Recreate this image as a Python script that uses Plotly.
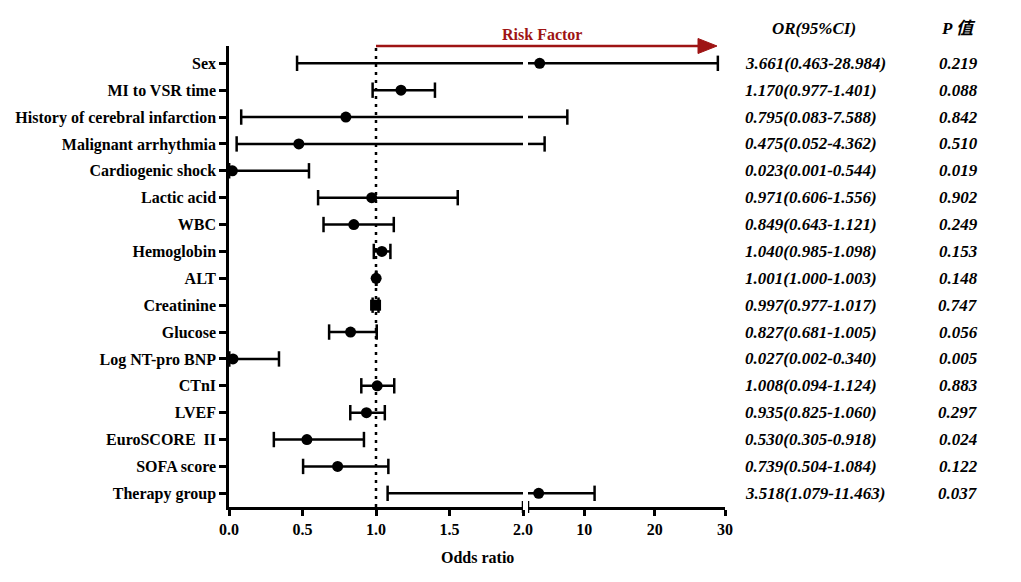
import plotly.graph_objects as go

# ---------------- data ----------------
variables = ["Sex", "MI to VSR time", "History of cerebral infarction", "Malignant arrhythmia",
             "Cardiogenic shock", "Lactic acid", "WBC", "Hemoglobin", "ALT", "Creatinine",
             "Glucose", "Log NT-pro BNP", "CTnI", "LVEF", "EuroSCORE  II", "SOFA score",
             "Therapy group"]
odds_ratio = [3.661, 1.170, 0.795, 0.475, 0.023, 0.971, 0.849, 1.040, 1.001, 0.997,
              0.827, 0.027, 1.008, 0.935, 0.530, 0.739, 3.518]
ci_lower = [0.463, 0.977, 0.083, 0.052, 0.001, 0.606, 0.643, 0.985, 1.000, 0.977,
            0.681, 0.002, 0.900, 0.825, 0.305, 0.504, 1.079]
ci_upper = [28.984, 1.401, 7.588, 4.362, 0.544, 1.556, 1.121, 1.098, 1.003, 1.017,
            1.005, 0.340, 1.124, 1.060, 0.918, 1.084, 11.463]
or_text = ["3.661(0.463-28.984)", "1.170(0.977-1.401)", "0.795(0.083-7.588)", "0.475(0.052-4.362)",
           "0.023(0.001-0.544)", "0.971(0.606-1.556)", "0.849(0.643-1.121)", "1.040(0.985-1.098)",
           "1.001(1.000-1.003)", "0.997(0.977-1.017)", "0.827(0.681-1.005)", "0.027(0.002-0.340)",
           "1.008(0.094-1.124)", "0.935(0.825-1.060)", "0.530(0.305-0.918)", "0.739(0.504-1.084)",
           "3.518(1.079-11.463)"]
p_text = ["0.219", "0.088", "0.842", "0.510", "0.019", "0.902", "0.249", "0.153", "0.148",
          "0.747", "0.056", "0.005", "0.883", "0.297", "0.024", "0.122", "0.037"]
marker_symbols = ["circle"] * 9 + ["square"] + ["circle"] * 7
left_ticks = [0, 0.5, 1.0, 1.5, 2.0]
left_ticktext = ["0.0", "0.5", "1.0", "1.5", "2.0"]
right_ticks = [10, 20, 30]
right_ticktext = ["10", "20", "30"]
BREAK = 2.0
X_MAX = 30

# ---------------- styling ----------------
SERIF = "Liberation Serif, Times New Roman, serif"
BLACK = "#000000"
RED = "#9E1414"
LW = 2.5

W, H = 1021, 582
L, R, T, B = 229, 296, 46, 75
plot_w = W - L - R
plot_h = H - T - B
left_dom = [0, (523 - L) / plot_w]
right_dom = [(528 - L) / plot_w, 1]

fig = go.Figure()

rows = list(range(len(variables)))

# build line segments for each axis part
lx, ly, rx, ry = [], [], [], []
lcapx, lcapy, rcapx, rcapy = [], [], [], []
lpx, lpy, lps, rpx, rpy, rps = [], [], [], [], [], []
for i in rows:
    lo, hi, o = ci_lower[i], ci_upper[i], odds_ratio[i]
    if lo < BREAK:
        lx += [lo, min(hi, BREAK), None]
        ly += [i, i, None]
        lcapx.append(lo); lcapy.append(i)
    if hi > BREAK:
        rx += [max(lo, BREAK), hi, None]
        ry += [i, i, None]
        rcapx.append(hi); rcapy.append(i)
    else:
        lcapx.append(hi); lcapy.append(i)
    if o <= BREAK:
        lpx.append(o); lpy.append(i); lps.append(marker_symbols[i])
    else:
        rpx.append(o); rpy.append(i); rps.append(marker_symbols[i])

line_style = dict(color=BLACK, width=LW)
cap_marker = dict(symbol="line-ns", size=11, line=dict(color=BLACK, width=LW))

fig.add_trace(go.Scatter(x=lx, y=ly, mode="lines", line=line_style, xaxis="x", yaxis="y",
                         showlegend=False, hoverinfo="skip"))
fig.add_trace(go.Scatter(x=rx, y=ry, mode="lines", line=line_style, xaxis="x2", yaxis="y",
                         showlegend=False, hoverinfo="skip"))
fig.add_trace(go.Scatter(x=lcapx, y=lcapy, mode="markers", marker=cap_marker, xaxis="x", yaxis="y",
                         showlegend=False, hoverinfo="skip"))
fig.add_trace(go.Scatter(x=rcapx, y=rcapy, mode="markers", marker=cap_marker, xaxis="x2", yaxis="y",
                         showlegend=False, hoverinfo="skip"))
fig.add_trace(go.Scatter(x=lpx, y=lpy, mode="markers",
                         marker=dict(symbol=lps, size=11, color=BLACK), xaxis="x", yaxis="y",
                         showlegend=False))
fig.add_trace(go.Scatter(x=rpx, y=rpy, mode="markers",
                         marker=dict(symbol=rps, size=11, color=BLACK), xaxis="x2", yaxis="y",
                         showlegend=False))

tickfont = dict(family=SERIF, size=16, color=BLACK, weight="bold")
axis_common = dict(showline=True, linecolor=BLACK, linewidth=LW, ticks="outside",
                   ticklen=6, tickwidth=LW, tickcolor=BLACK, showgrid=False, zeroline=False,
                   tickfont=tickfont, automargin=False)

top_ext = -(63.3 - T) / 26.875
bot_ext = 16 + (507 - 493.3) / 26.875

fig.update_layout(
    width=W, height=H,
    margin=dict(l=L, r=R, t=T, b=B, pad=0),
    paper_bgcolor="white", plot_bgcolor="white",
    xaxis=dict(domain=left_dom, range=[0, BREAK], tickmode="array", tickvals=left_ticks,
               ticktext=left_ticktext, anchor="y", **axis_common),
    xaxis2=dict(domain=right_dom, range=[BREAK, X_MAX], tickmode="array", tickvals=right_ticks,
                ticktext=right_ticktext, anchor="y", **axis_common),
    yaxis=dict(range=[bot_ext, top_ext], tickmode="array", tickvals=rows, ticktext=variables,
               showline=True, linecolor=BLACK, linewidth=LW, ticks="outside", ticklen=7,
               tickwidth=LW, tickcolor=BLACK, showgrid=False, zeroline=False, automargin=False,
               tickfont=dict(family=SERIF, size=16, color=BLACK, weight="bold")),
)

shapes = []
# reference line at OR = 1
shapes.append(dict(type="line", xref="x", yref="paper", x0=1, x1=1, y0=0, y1=1,
                   line=dict(color=BLACK, width=LW, dash="3px,5px"), layer="below"))
# axis break marks
for xr in ["x", "x2"]:
    shapes.append(dict(type="line", xref=xr, yref="paper", x0=BREAK, x1=BREAK,
                       ysizemode="pixel", yanchor=0, y0=-6, y1=6,
                       line=dict(color=BLACK, width=LW)))
# risk factor arrow
ax0 = (376 - L) / plot_w
ax_tip = (717 - L) / plot_w
ax_base = (698 - L) / plot_w
hh = 7.5 / plot_h
shapes.append(dict(type="line", xref="paper", yref="paper", x0=ax0, x1=ax_base + 0.005,
                   y0=1, y1=1, line=dict(color=RED, width=2.5)))
shapes.append(dict(type="path", xref="paper", yref="paper",
                   path=f"M {ax_base},{1 - hh} L {ax_tip},1 L {ax_base},{1 + hh} Z",
                   fillcolor=RED, line=dict(color=RED, width=1)))
fig.update_layout(shapes=shapes)

ann = []
ann.append(dict(text="Risk Factor", xref="paper", yref="paper", x=(541.7 - L) / plot_w,
                y=(H - B - 34) / plot_h, showarrow=False, xanchor="center", yanchor="middle",
                font=dict(family=SERIF, size=16, color=RED, weight="bold")))
ann.append(dict(text="Odds ratio", xref="paper", yref="paper", x=(477 - L) / plot_w,
                y=-(557 - (H - B)) / plot_h, showarrow=False, xanchor="center", yanchor="middle",
                font=dict(family=SERIF, size=16, color=BLACK, weight="bold")))
colfont = dict(family=SERIF + ", Noto Sans CJK SC", size=17, color=BLACK, weight="bold",
               style="italic")
head_y = (H - B - 28) / plot_h
ann.append(dict(text="OR(95%CI)", xref="paper", yref="paper", x=(814 - L) / plot_w, y=head_y,
                showarrow=False, xanchor="center", yanchor="middle", font=colfont))
ann.append(dict(text="P 值", xref="paper", yref="paper", x=(958 - L) / plot_w, y=head_y,
                showarrow=False, xanchor="center", yanchor="middle", font=colfont))
for i in rows:
    ann.append(dict(text=or_text[i], xref="paper", yref="y", x=(743 - L) / plot_w, y=i,
                    showarrow=False, xanchor="left", yanchor="middle", font=colfont))
    ann.append(dict(text=p_text[i], xref="paper", yref="y", x=(958 - L) / plot_w, y=i,
                    showarrow=False, xanchor="center", yanchor="middle", font=colfont))
fig.update_layout(annotations=ann)

fig.write_html("out.html", config={"displayModeBar": False},
               post_script="document.body.style.margin='0';document.body.style.padding='0';")
